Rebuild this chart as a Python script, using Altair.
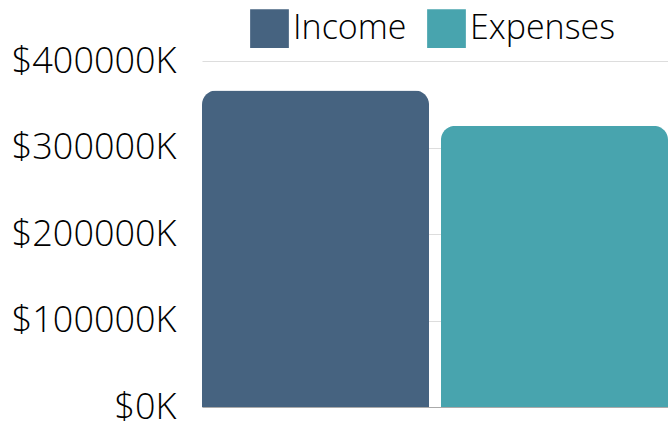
import altair as alt
import pandas as pd

categories = ["Income", "Expenses"]
values = [366000, 325000]
colors = ["#466380", "#48a4ae"]
y_ticks = [0, 100000, 200000, 300000, 400000]

df = pd.DataFrame({"category": categories, "value": values})

FONT = "Open Sans"

chart = alt.Chart(df).mark_bar(
    cornerRadiusTopLeft=14, cornerRadiusTopRight=14
).encode(
    x=alt.X(
        "category:N", sort=categories,
        axis=alt.Axis(labels=False, ticks=False, title=None, domain=True,
                      domainColor="#aaaaaa", grid=False),
        scale=alt.Scale(paddingInner=0.05, paddingOuter=0),
    ),
    y=alt.Y(
        "value:Q",
        scale=alt.Scale(domain=[0, 400000]),
        axis=alt.Axis(values=y_ticks, title=None,
                      labelExpr="'$' + datum.value + 'K'",
                      ticks=False, labelPadding=26, domain=False,
                      gridColor="#dddddd", labelFontSize=36, labelFont=FONT,
                      labelFontWeight=300, labelColor="#000000"),
    ),
    color=alt.Color(
        "category:N", sort=categories,
        scale=alt.Scale(domain=categories, range=colors),
        legend=alt.Legend(title=None, orient="none", legendX=48, legendY=-52,
                          direction="horizontal", symbolType="square",
                          symbolSize=1500, labelFontSize=34, labelFont=FONT,
                          labelFontWeight=300,
                          labelColor="#000000", labelOffset=4, columnPadding=20,
                          symbolStrokeWidth=0, symbolOpacity=1),
    ),
).properties(
    width=466, height=346,
    padding={"left": 202, "top": 61, "right": 0, "bottom": 18},
    autosize="none",
).configure_view(stroke=None)

chart.save("out.html", embed_options={"renderer": "svg", "actions": False})
